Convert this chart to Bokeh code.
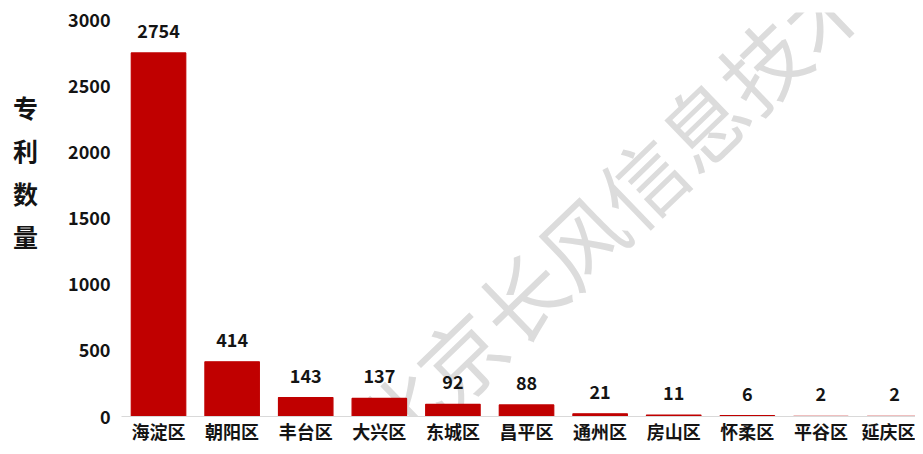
import math
from bokeh.plotting import figure
from bokeh.models import ColumnDataSource, FixedTicker, Label, Range1d
from bokeh.core.properties import value
from bokeh.embed import file_html
from bokeh.resources import INLINE

districts = ["海淀区", "朝阳区", "丰台区", "大兴区", "东城区", "昌平区",
             "通州区", "房山区", "怀柔区", "平谷区", "延庆区"]
counts = [2754, 414, 143, 137, 92, 88, 21, 11, 6, 2, 2]
y_ticks = [0, 500, 1000, 1500, 2000, 2500, 3000]
y_title = "专\n利\n数\n量\n\n "
watermark = "北京长风信息技术"

FONT = "Noto Sans CJK SC"
RED = "#C00000"
INK = "#141414"

xs = list(range(len(districts)))
src = ColumnDataSource(dict(x=xs, top=counts, label=[str(c) for c in counts]))

p = figure(width=915, height=446, output_backend="svg", toolbar_location=None,
           x_range=Range1d(-0.503, 10.285), y_range=Range1d(0, 3060),
           min_border_left=121, min_border_right=0, min_border_top=12,
           min_border_bottom=27)
p.outline_line_color = None
p.xgrid.visible = False
p.ygrid.visible = False
p.background_fill_color = "white"
p.border_fill_color = "white"

# watermark (behind bars)
wm = Label(x=6.14, y=1571, text=watermark, angle=math.radians(44),
           text_font=FONT, text_font_size="84px", text_color="#dcdcdc",
           text_align="center", text_baseline="middle", level="underlay")
p.add_layout(wm)

p.vbar(x="x", top="top", width=0.74, bottom=0, source=src,
       fill_color=RED, line_color=RED, line_width=1.2)
p.text(x="x", y="top", text="label", source=src, text_align="center",
       text_baseline="bottom", y_offset=-15, text_font=value(FONT),
       text_font_style="bold", text_font_size="18px", text_color=INK)

# y axis
ya = p.yaxis[0]
ya.ticker = FixedTicker(ticks=y_ticks)
ya.axis_line_color = None
ya.major_tick_line_color = None
ya.major_tick_out = 0
ya.major_tick_in = 0
ya.minor_tick_line_color = None
ya.major_label_text_font = FONT
ya.major_label_text_font_style = "bold"
ya.major_label_text_font_size = "18px"
ya.major_label_text_color = INK
ya.major_label_standoff = 11
ya.axis_label = y_title
ya.axis_label_orientation = "horizontal"
ya.axis_label_text_font = FONT
ya.axis_label_text_font_style = "bold"
ya.axis_label_text_font_size = "25px"
ya.axis_label_text_color = INK
ya.axis_label_text_line_height = 1.19
ya.axis_label_standoff = 27

# x axis
xa = p.xaxis[0]
xa.ticker = FixedTicker(ticks=xs)
xa.major_label_overrides = {i: d for i, d in zip(xs, districts)}
xa.axis_line_color = "#d9d9d9"
xa.axis_line_width = 1
xa.major_tick_line_color = None
xa.major_tick_out = 0
xa.major_tick_in = 0
xa.minor_tick_line_color = None
xa.major_label_text_font = FONT
xa.major_label_text_font_style = "bold"
xa.major_label_text_font_size = "18px"
xa.major_label_text_color = INK
xa.major_label_standoff = 1

open("out.html", "w").write(file_html(p, INLINE))
